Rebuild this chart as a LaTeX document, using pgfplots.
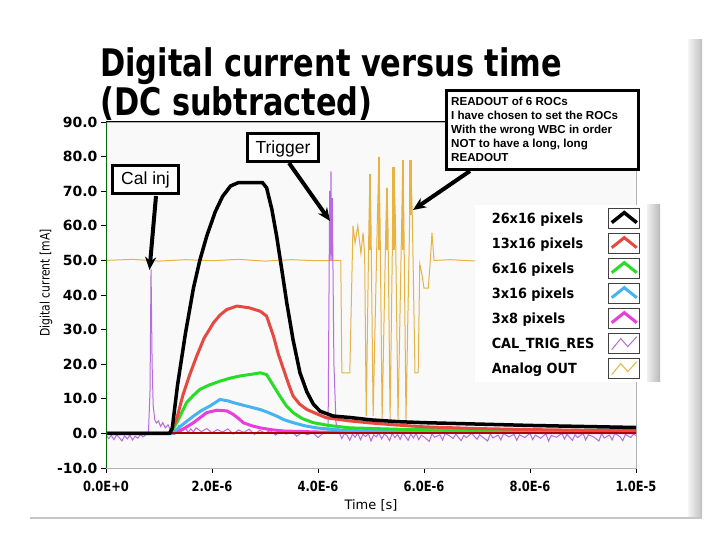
\documentclass[border=0pt]{standalone}
\usepackage{pgfplots}
\pgfplotsset{compat=1.18}
\usetikzlibrary{arrows.meta}
\usepackage{fontspec}
\setmainfont{Liberation Sans}
\newfontfamily\dvs{DejaVu Sans}
\newfontfamily\dvsx{DejaVu Sans}[FakeStretch=0.82]
\newfontfamily\dvsl{DejaVu Sans}[FakeStretch=0.92]
\newfontfamily\dvsy{DejaVu Sans}[FakeStretch=0.83]
\newfontfamily\titlefont{DejaVu Sans}[FakeStretch=0.8]
\definecolor{cRed}{RGB}{232,72,64}
\definecolor{cGreen}{RGB}{40,220,40}
\definecolor{cBlue}{RGB}{70,180,240}
\definecolor{cMag}{RGB}{235,60,220}
\definecolor{cPurple}{RGB}{185,105,225}
\definecolor{cOrange}{RGB}{232,178,68}
\definecolor{cDarkRed}{RGB}{175,0,0}
\definecolor{cAxGreen}{RGB}{0,110,0}
\pgfplotsset{
  chev/.style={legend image code/.code={
     \draw[black!75, line width=0.8bp, fill=white, solid] (0bp,-10bp) rectangle (31bp,10bp);
     \draw[##1, line join=miter] (3bp,-4bp) -- (15.5bp,6bp) -- (28bp,-4bp);
  }},
  zig/.style={legend image code/.code={
     \draw[black!75, line width=0.8bp, fill=white, solid] (0bp,-10bp) rectangle (31bp,10bp);
     \draw[##1] (3bp,-6bp) -- (12bp,5bp) -- (19bp,-3bp) -- (28bp,7bp);
  }},
}
\begin{document}
\begin{tikzpicture}[x=1bp,y=1bp]
\path[use as bounding box] (0,0) rectangle (720,540);
\shade[left color=gray!8, right color=gray!50] (688,22) rectangle (702,500);
\draw[gray!45, line width=1.5bp] (30,22) -- (702,22);
\begin{axis}[
  at={(106bp,72bp)}, anchor=south west, scale only axis,
  width=530bp, height=346bp,
  xmin=0, xmax=10, ymin=-10, ymax=90,
  axis background/.style={fill=gray!5},
  axis line style={gray!60, line width=0.8bp},
  xtick={0,2,4,6,8,10},
  xticklabels={0.0E+0,2.0E-6,4.0E-6,6.0E-6,8.0E-6,1.0E-5},
  ytick={-10,0,10,20,30,40,50,60,70,80,90},
  yticklabels={-10.0,0.0,10.0,20.0,30.0,40.0,50.0,60.0,70.0,80.0,90.0},
  tick pos=left, tick align=outside, major tick length=5bp,
  tick style={black, line width=0.8bp},
  yticklabel style={font=\fontsize{14bp}{16bp}\dvs\bfseries},
  xticklabel style={font=\fontsize{14bp}{16bp}\dvsx\bfseries, yshift=-5bp},
  xlabel={Time [s]}, ylabel={Digital current [mA]},
  xlabel style={at={(axis description cs:0.5,-0.107)}, anchor=center, font=\fontsize{13bp}{15bp}\dvs},
  ylabel style={at={(axis description cs:-0.113,0.535)}, anchor=center, font=\fontsize{13bp}{15bp}\dvsy},
  reverse legend, legend plot pos=right, legend cell align=left,
  legend style={at={(axis description cs:0.696,0.760)}, anchor=north west,
    draw=none, fill=white, inner xsep=4bp, inner ysep=3bp,
    row sep=4.2bp, column sep=1.3bp,
    nodes={inner xsep=12.7bp, inner ysep=0bp},
    font=\fontsize{14bp}{16bp}\dvsl\bfseries},
]
% Analog OUT
\addplot[color=cOrange, line width=1bp, zig] coordinates {
(0,50)(0.5,50.3)(1,49.8)(1.5,50.2)(2,49.9)(2.5,50.3)(3,49.8)(3.5,50.2)(4,49.9)(4.43,50)
(4.45,17.5)(4.6,17.5)(4.66,60)(4.70,55)(4.75,60)(4.81,52)(4.85,58)(4.88,52)(4.91,5)
(4.96,60)(4.98,75)(5.0,60)(5.04,5)(5.12,62)(5.15,80)(5.17,62)(5.21,4)
(5.28,60)(5.30,71)(5.32,60)(5.36,4)(5.41,62)(5.43,77)(5.46,62)(5.51,4)
(5.58,62)(5.60,79)(5.62,62)(5.66,4)(5.73,62)(5.75,79)(5.78,62)(5.83,17.5)(5.89,17.5)
(5.92,49)(5.96,46)(6.0,42)(6.08,42)(6.12,50)(6.15,58)(6.19,50)(6.5,50.2)(7,49.8)
(7.5,50.2)(8,49.9)(8.5,50.3)(9,49.8)(9.5,50.1)(10,50)};
\addlegendentry{Analog OUT}
% Analog OUT: overlapping traces at the peaks
\addplot[color=cOrange, line width=2.6bp, forget plot, unbounded coords=jump] coordinates {
(4.98,53)(4.98,75)(5.0,nan)(5.15,53)(5.15,80)(5.17,nan)(5.30,53)(5.30,71)(5.32,nan)
(5.43,53)(5.43,77)(5.45,nan)(5.60,53)(5.60,79)(5.62,nan)(5.75,63)(5.75,79)};
% CAL_TRIG_RES
\addplot[color=cPurple, line width=1bp, zig] coordinates {
(0,-0.5)(0.05,-1.5)(0.1,-0.6)(0.15,-1.8)(0.2,-0.4)(0.25,-1.2)(0.3,-2.2)(0.35,-0.7)(0.4,-1.6)
(0.45,-0.5)(0.5,-1.9)(0.55,-0.8)(0.6,-1.4)(0.65,-0.3)(0.7,-1.0)(0.75,-0.4)(0.8,-0.2)
(0.83,12)(0.85,47.4)(0.87,20)(0.89,8)(0.92,4)(0.95,3)(0.99,3.6)(1.03,2)(1.07,3.1)(1.12,1.6)
(1.17,2.5)(1.22,0.8)(1.27,1.8)(1.32,0.5)(1.37,2.2)(1.42,0.6)(1.5,1.5)(1.55,0.3)(1.6,1.3)
(1.65,0.4)(1.7,1.6)(1.8,0.5)(1.9,1.4)(2.0,0.2)(2.1,1.1)(2.2,0.4)(2.3,1.3)(2.4,-0.2)(2.5,1.0)
(2.6,0.3)(2.7,1.2)(2.8,-0.3)(2.9,0.9)(3.0,0.1)(3.1,0.8)(3.2,-0.5)(3.3,0.6)(3.4,-0.2)(3.5,0.5)
(3.6,-0.8)(3.7,0.3)(3.8,-0.4)(3.9,0.2)(4.0,-1.2)(4.1,0.1)(4.19,0)(4.22,70)(4.23,50)(4.245,75.7)
(4.26,50)(4.27,68)(4.3,20)(4.34,3)(4.4,0.2)(4.45,-1.5)(4.5,0)(4.55,-0.6)(4.6,-2)(4.65,-0.2)
(4.7,-1.1)(4.75,0.1)(4.8,-1.8)(4.85,-0.3)(4.9,-0.9)(4.95,0)(5.0,-2.2)(5.05,-0.4)(5.1,-1.0)(5.15,0.1)
(5.2,-1.6)(5.25,-0.2)(5.3,-0.8)(5.35,-2.1)(5.4,0)(5.45,-1.2)(5.5,-0.3)(5.55,-1.7)(5.6,0.1)(5.65,-0.9)
(5.7,-2.0)(5.75,-0.2)(5.8,-1.3)(5.85,0)(5.9,-1.8)(5.95,-0.5)(6.0,-1.0)(6.1,-2.3)(6.15,-0.1)(6.2,-1.1)
(6.3,-0.4)(6.35,-1.9)(6.4,0)(6.5,-0.9)(6.55,-1.5)(6.6,-0.2)(6.7,-2.1)(6.75,-0.6)(6.8,-1.2)(6.9,0)
(7.0,-1.7)(7.05,-0.4)(7.1,-1.0)(7.2,-2.2)(7.25,-0.1)(7.3,-1.3)(7.4,-0.5)(7.45,-1.9)(7.5,0)(7.6,-1.0)
(7.7,-0.3)(7.75,-2.0)(7.8,-0.4)(7.9,-1.2)(8.0,0)(8.05,-1.8)(8.1,-0.5)(8.2,-1.4)(8.3,-0.1)(8.35,-2.2)
(8.4,-0.6)(8.5,-1.1)(8.6,0)(8.65,-1.6)(8.7,-0.3)(8.8,-2.0)(8.85,-0.4)(8.9,-1.2)(9.0,0)(9.05,-1.9)
(9.1,-0.4)(9.2,-1.0)(9.3,-2.2)(9.35,-0.1)(9.4,-1.3)(9.5,-0.5)(9.55,-1.9)(9.6,0)(9.7,-1.0)(9.75,-2.1)
(9.8,-0.3)(9.9,-1.2)(9.95,-0.2)(10,-0.6)};
\addlegendentry{CAL\_TRIG\_RES}
% 3x8
\addplot[color=cMag, line width=3bp, chev] coordinates {
(0,0)(1.28,0)(1.45,1.2)(1.65,3.1)(1.9,6)(2.09,6.7)(2.28,6.5)(2.4,5.5)(2.5,4.3)(2.59,3.1)
(2.75,2.2)(2.91,1.6)(3.1,1.1)(3.34,0.7)(4,0.4)(10,0.2)};
\addlegendentry{3x8 pixels}
% 3x16
\addplot[color=cBlue, line width=3bp, chev] coordinates {
(0,0)(1.25,0)(1.4,2)(1.65,5)(1.8,6.6)(1.96,7.9)(2.15,9.8)(2.3,9.4)(2.4,8.9)(2.65,7.9)(2.91,6.9)
(3.05,6.1)(3.22,5)(3.35,4)(3.53,3.1)(3.75,2.2)(3.97,1.6)(4.3,1.1)(4.6,0.8)(6,0.5)(10,0.3)};
\addlegendentry{3x16 pixels}
% 6x16
\addplot[color=cGreen, line width=3bp, chev] coordinates {
(0,0)(1.22,0)(1.35,3.5)(1.52,8.9)(1.65,11)(1.77,12.7)(1.95,14)(2.15,15.1)(2.35,16)(2.53,16.6)
(2.75,17.1)(2.91,17.5)(3.03,17)(3.15,14)(3.28,10.8)(3.4,8)(3.53,6)(3.7,4.3)(3.91,3.1)(4.2,2.3)
(4.6,1.6)(5.5,1.2)(7,0.9)(10,0.6)};
\addlegendentry{6x16 pixels}
% 13x16
\addplot[color=cRed, line width=3bp, chev] coordinates {
(0,0)(1.2,0)(1.33,4)(1.45,11)(1.58,17)(1.71,22.3)(1.85,27.5)(2.03,32)(2.15,34.2)(2.28,35.8)
(2.47,36.8)(2.7,36.3)(2.91,35.3)(3.03,33.9)(3.16,28.1)(3.25,23)(3.35,18.5)(3.45,14)(3.53,10.8)
(3.65,8.5)(3.79,6.9)(4.0,5.5)(4.16,4.5)(4.6,3.6)(5,3)(5.5,2.4)(6,1.9)(7,1.4)(8,1.1)(9,0.9)(10,0.8)};
\addlegendentry{13x16 pixels}
% zero reference
\addplot[color=cDarkRed, line width=2bp, forget plot] coordinates {(0,0)(10,0)};
% 26x16
\addplot[color=black, line width=3.5bp, chev] coordinates {
(0,0)(1.2,0)(1.25,1.5)(1.35,14)(1.5,29)(1.65,42)(1.77,50)(1.9,57)(2.06,64)(2.2,68.5)(2.35,71.5)
(2.5,72.5)(2.95,72.5)(3.03,71)(3.13,64.7)(3.22,57)(3.32,47)(3.41,37.8)(3.53,27)(3.66,17.5)
(3.79,12)(3.91,8.5)(4.04,6.4)(4.29,5)(4.6,4.6)(5.0,3.9)(5.5,3.4)(6,3.1)(7,2.7)(8,2.3)(9,2)(10,1.7)};
\addlegendentry{26x16 pixels}
\draw[black, line width=1bp] (rel axis cs:0,1) -- (rel axis cs:1,1);
\draw[cAxGreen, line width=2bp] (rel axis cs:0,0) -- (rel axis cs:0,1);
\end{axis}
% legend shadow
\shade[left color=gray!12, right color=gray!55] (647,158) rectangle (660,335);
% title
\node[anchor=base west, inner sep=0, font=\fontsize{38bp}{40bp}\titlefont\bfseries] at (100,463) {Digital current versus time};
\node[anchor=base west, inner sep=0, font=\fontsize{38bp}{40bp}\titlefont\bfseries] at (100,424) {(DC subtracted)};
% READOUT box
\draw[line width=3bp, fill=white] (446.5,449.5) rectangle (638.5,370.5);
\begin{scope}[every node/.style={anchor=base west, inner sep=0, font=\fontsize{11.6bp}{14bp}\selectfont\bfseries}]
\node at (451,434.5) {READOUT of 6 ROCs};
\node at (451,420.4) {I have chosen to set the ROCs};
\node at (451,406.3) {With the wrong WBC in order};
\node at (451,392.2) {NOT to have a long, long};
\node at (451,378.1) {READOUT};
\end{scope}
% Trigger box
\draw[line width=3bp, fill=white] (247.5,406.5) rectangle (318.5,378);
\node[anchor=base, inner sep=0, font=\fontsize{17.5bp}{20bp}\selectfont] at (283,386.7) {Trigger};
% Cal inj box
\draw[line width=3bp, fill=white] (112.5,374) rectangle (178.5,346);
\node[anchor=base, inner sep=0, font=\fontsize{17.5bp}{20bp}\selectfont] at (145.5,355) {Cal inj};
% arrows
\draw[line width=4bp, -{Stealth[length=13bp, width=11bp]}] (156,344) -- (149.5,270);
\draw[line width=4bp, -{Stealth[length=13bp, width=11bp]}] (289,377) -- (330,319);
\draw[line width=4bp, -{Stealth[length=13bp, width=11bp]}] (470,369) -- (413,330);
\end{tikzpicture}
\end{document}
